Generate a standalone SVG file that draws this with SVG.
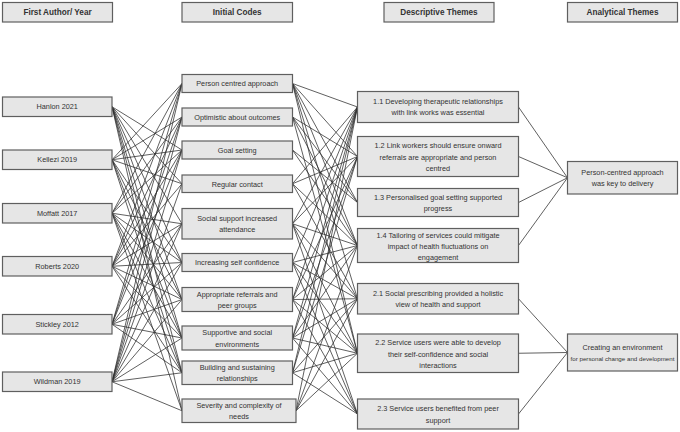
<svg xmlns="http://www.w3.org/2000/svg" width="680" height="432" viewBox="0 0 680 432">
<style>
.box{fill:#e6e6e6;stroke:#5f5f5f;stroke-width:1.2}
.hd{font-family:"Liberation Sans",Arial,sans-serif;font-size:8.2px;font-weight:bold;fill:#333;text-anchor:middle}
.t{font-family:"Liberation Sans",Arial,sans-serif;font-size:7.3px;fill:#333;text-anchor:middle}
.ts{font-family:"Liberation Sans",Arial,sans-serif;font-size:6.2px;fill:#333;text-anchor:middle}
#connectors line{stroke:#2b2b2b;stroke-width:0.75}
</style>
<rect width="680" height="432" fill="#fff"/>
<g id="connectors">
<line x1="112" y1="106.75" x2="182" y2="150"/>
<line x1="112" y1="106.75" x2="182" y2="183.75"/>
<line x1="112" y1="106.75" x2="182" y2="223.75"/>
<line x1="112" y1="106.75" x2="182" y2="262.5"/>
<line x1="112" y1="106.75" x2="182" y2="299.5"/>
<line x1="112" y1="106.75" x2="182" y2="338"/>
<line x1="112" y1="106.75" x2="182" y2="372.75"/>
<line x1="112" y1="106.75" x2="182" y2="410.75"/>
<line x1="112" y1="159.75" x2="182" y2="83.5"/>
<line x1="112" y1="159.75" x2="182" y2="117"/>
<line x1="112" y1="159.75" x2="182" y2="150"/>
<line x1="112" y1="159.75" x2="182" y2="183.75"/>
<line x1="112" y1="159.75" x2="182" y2="262.5"/>
<line x1="112" y1="159.75" x2="182" y2="299.5"/>
<line x1="112" y1="159.75" x2="182" y2="338"/>
<line x1="112" y1="159.75" x2="182" y2="372.75"/>
<line x1="112" y1="213.25" x2="182" y2="83.5"/>
<line x1="112" y1="213.25" x2="182" y2="117"/>
<line x1="112" y1="213.25" x2="182" y2="150"/>
<line x1="112" y1="213.25" x2="182" y2="223.75"/>
<line x1="112" y1="213.25" x2="182" y2="262.5"/>
<line x1="112" y1="213.25" x2="182" y2="299.5"/>
<line x1="112" y1="213.25" x2="182" y2="338"/>
<line x1="112" y1="213.25" x2="182" y2="372.75"/>
<line x1="112" y1="213.25" x2="182" y2="410.75"/>
<line x1="112" y1="266.25" x2="182" y2="83.5"/>
<line x1="112" y1="266.25" x2="182" y2="117"/>
<line x1="112" y1="266.25" x2="182" y2="150"/>
<line x1="112" y1="266.25" x2="182" y2="183.75"/>
<line x1="112" y1="266.25" x2="182" y2="223.75"/>
<line x1="112" y1="266.25" x2="182" y2="262.5"/>
<line x1="112" y1="266.25" x2="182" y2="299.5"/>
<line x1="112" y1="266.25" x2="182" y2="338"/>
<line x1="112" y1="266.25" x2="182" y2="372.75"/>
<line x1="112" y1="324.25" x2="182" y2="83.5"/>
<line x1="112" y1="324.25" x2="182" y2="117"/>
<line x1="112" y1="324.25" x2="182" y2="150"/>
<line x1="112" y1="324.25" x2="182" y2="223.75"/>
<line x1="112" y1="324.25" x2="182" y2="262.5"/>
<line x1="112" y1="324.25" x2="182" y2="299.5"/>
<line x1="112" y1="324.25" x2="182" y2="338"/>
<line x1="112" y1="324.25" x2="182" y2="372.75"/>
<line x1="112" y1="381.75" x2="182" y2="83.5"/>
<line x1="112" y1="381.75" x2="182" y2="117"/>
<line x1="112" y1="381.75" x2="182" y2="150"/>
<line x1="112" y1="381.75" x2="182" y2="183.75"/>
<line x1="112" y1="381.75" x2="182" y2="223.75"/>
<line x1="112" y1="381.75" x2="182" y2="262.5"/>
<line x1="112" y1="381.75" x2="182" y2="299.5"/>
<line x1="112" y1="381.75" x2="182" y2="338"/>
<line x1="112" y1="381.75" x2="182" y2="372.75"/>
<line x1="112" y1="381.75" x2="182" y2="410.75"/>
<line x1="292.5" y1="83.5" x2="357.5" y2="107"/>
<line x1="292.5" y1="83.5" x2="357.5" y2="156.5"/>
<line x1="292.5" y1="83.5" x2="357.5" y2="202.5"/>
<line x1="292.5" y1="83.5" x2="357.5" y2="245.5"/>
<line x1="292.5" y1="83.5" x2="357.5" y2="298.75"/>
<line x1="292.5" y1="83.5" x2="357.5" y2="353.25"/>
<line x1="292.5" y1="117" x2="357.5" y2="156.5"/>
<line x1="292.5" y1="117" x2="357.5" y2="202.5"/>
<line x1="292.5" y1="117" x2="357.5" y2="245.5"/>
<line x1="292.5" y1="117" x2="357.5" y2="353.25"/>
<line x1="292.5" y1="150" x2="357.5" y2="202.5"/>
<line x1="292.5" y1="150" x2="357.5" y2="245.5"/>
<line x1="292.5" y1="183.75" x2="357.5" y2="107"/>
<line x1="292.5" y1="183.75" x2="357.5" y2="156.5"/>
<line x1="292.5" y1="183.75" x2="357.5" y2="245.5"/>
<line x1="292.5" y1="183.75" x2="357.5" y2="298.75"/>
<line x1="292.5" y1="223.75" x2="357.5" y2="107"/>
<line x1="292.5" y1="223.75" x2="357.5" y2="156.5"/>
<line x1="292.5" y1="223.75" x2="357.5" y2="245.5"/>
<line x1="292.5" y1="223.75" x2="357.5" y2="298.75"/>
<line x1="292.5" y1="223.75" x2="357.5" y2="353.25"/>
<line x1="292.5" y1="223.75" x2="357.5" y2="414"/>
<line x1="292.5" y1="262.5" x2="357.5" y2="107"/>
<line x1="292.5" y1="262.5" x2="357.5" y2="245.5"/>
<line x1="292.5" y1="262.5" x2="357.5" y2="298.75"/>
<line x1="292.5" y1="262.5" x2="357.5" y2="353.25"/>
<line x1="292.5" y1="262.5" x2="357.5" y2="414"/>
<line x1="292.5" y1="299.5" x2="357.5" y2="107"/>
<line x1="292.5" y1="299.5" x2="357.5" y2="156.5"/>
<line x1="292.5" y1="299.5" x2="357.5" y2="245.5"/>
<line x1="292.5" y1="299.5" x2="357.5" y2="298.75"/>
<line x1="292.5" y1="299.5" x2="357.5" y2="353.25"/>
<line x1="292.5" y1="299.5" x2="357.5" y2="414"/>
<line x1="292.5" y1="338" x2="357.5" y2="107"/>
<line x1="292.5" y1="338" x2="357.5" y2="156.5"/>
<line x1="292.5" y1="338" x2="357.5" y2="245.5"/>
<line x1="292.5" y1="338" x2="357.5" y2="298.75"/>
<line x1="292.5" y1="338" x2="357.5" y2="353.25"/>
<line x1="292.5" y1="338" x2="357.5" y2="414"/>
<line x1="292.5" y1="372.75" x2="357.5" y2="107"/>
<line x1="292.5" y1="372.75" x2="357.5" y2="156.5"/>
<line x1="292.5" y1="372.75" x2="357.5" y2="298.75"/>
<line x1="292.5" y1="372.75" x2="357.5" y2="353.25"/>
<line x1="292.5" y1="372.75" x2="357.5" y2="414"/>
<line x1="296" y1="410.75" x2="357.5" y2="107"/>
<line x1="296" y1="410.75" x2="357.5" y2="245.5"/>
<line x1="296" y1="410.75" x2="357.5" y2="298.75"/>
<line x1="296" y1="410.75" x2="357.5" y2="353.25"/>
<line x1="518.5" y1="107" x2="567.5" y2="177.75"/>
<line x1="518.5" y1="156.5" x2="567.5" y2="177.75"/>
<line x1="518.5" y1="202.5" x2="567.5" y2="177.75"/>
<line x1="518.5" y1="245.5" x2="567.5" y2="177.75"/>
<line x1="518.5" y1="298.75" x2="567.5" y2="352.5"/>
<line x1="518.5" y1="353.25" x2="567.5" y2="352.5"/>
<line x1="518.5" y1="414" x2="567.5" y2="352.5"/>
</g>
<g id="h-author"><rect class="box" x="2.5" y="2.5" width="110" height="19.5"/><text class="hd" x="57.5" y="15.2">First Author/ Year</text></g>
<g id="h-codes"><rect class="box" x="182" y="2.5" width="110.5" height="19.5"/><text class="hd" x="237.2" y="15.2">Initial Codes</text></g>
<g id="h-desc"><rect class="box" x="384" y="2.5" width="110" height="19.5"/><text class="hd" x="439" y="15.2">Descriptive Themes</text></g>
<g id="h-anal"><rect class="box" x="567.5" y="2.5" width="110" height="19.5"/><text class="hd" x="622.5" y="15.2">Analytical Themes</text></g>
<g id="a-hanlon"><rect class="box" x="2.5" y="97" width="109.5" height="19.5"/><text class="t" x="57.2" y="109.4">Hanlon 2021</text></g>
<g id="a-kellezi"><rect class="box" x="2.5" y="150" width="109.5" height="19.5"/><text class="t" x="57.2" y="162.4">Kellezi 2019</text></g>
<g id="a-moffatt"><rect class="box" x="2.5" y="203.5" width="109.5" height="19.5"/><text class="t" x="57.2" y="215.9">Moffatt 2017</text></g>
<g id="a-roberts"><rect class="box" x="2.5" y="256.5" width="109.5" height="19.5"/><text class="t" x="57.2" y="268.9">Roberts 2020</text></g>
<g id="a-stickley"><rect class="box" x="2.5" y="314.5" width="109.5" height="19.5"/><text class="t" x="57.2" y="326.9">Stickley 2012</text></g>
<g id="a-wildman"><rect class="box" x="2.5" y="372" width="109.5" height="19.5"/><text class="t" x="57.2" y="384.4">Wildman 2019</text></g>
<g id="c-person"><rect class="box" x="182" y="74.5" width="110.5" height="18"/><text class="t" x="237.2" y="86.2">Person centred approach</text></g>
<g id="c-optimistic"><rect class="box" x="182" y="108" width="110.5" height="18"/><text class="t" x="237.2" y="119.7">Optimistic about outcomes</text></g>
<g id="c-goal"><rect class="box" x="182" y="141" width="110.5" height="18"/><text class="t" x="237.2" y="152.7">Goal setting</text></g>
<g id="c-regular"><rect class="box" x="182" y="175" width="110.5" height="17.5"/><text class="t" x="237.2" y="186.5">Regular contact</text></g>
<g id="c-social"><rect class="box" x="182" y="208.5" width="110.5" height="30.5"/><text class="t" x="237.2" y="220.9">Social support increased</text><text class="t" x="237.2" y="232.2">attendance</text></g>
<g id="c-increasing"><rect class="box" x="182" y="253.5" width="110.5" height="18"/><text class="t" x="237.2" y="265.2">Increasing self confidence</text></g>
<g id="c-appropriate"><rect class="box" x="182" y="287.5" width="110.5" height="24"/><text class="t" x="237.2" y="296.6">Appropriate referrals and</text><text class="t" x="237.2" y="308">peer groups</text></g>
<g id="c-supportive"><rect class="box" x="182" y="326" width="110.5" height="24"/><text class="t" x="237.2" y="335.2">Supportive and social</text><text class="t" x="237.2" y="346.6">environments</text></g>
<g id="c-building"><rect class="box" x="182" y="361" width="110.5" height="23.5"/><text class="t" x="237.2" y="370">Building and sustaining</text><text class="t" x="237.2" y="381.4">relationships</text></g>
<g id="c-severity"><rect class="box" x="182" y="399" width="114" height="23.5"/><text class="t" x="239" y="408">Severity and complexity of</text><text class="t" x="239" y="419.4">needs</text></g>
<g id="d-11"><rect class="box" x="357.5" y="91.5" width="161" height="31"/><text class="t" x="438" y="104">1.1 Developing therapeutic relationships</text><text class="t" x="438" y="115.3">with link works was essential</text></g>
<g id="d-12"><rect class="box" x="357.5" y="136.5" width="161" height="40"/><text class="t" x="438" y="148.3">1.2 Link workers should ensure onward</text><text class="t" x="438" y="159.6">referrals are appropriate and person</text><text class="t" x="438" y="170.9">centred</text></g>
<g id="d-13"><rect class="box" x="357.5" y="188.5" width="161" height="28"/><text class="t" x="438" y="199.6">1.3 Personalised goal setting supported</text><text class="t" x="438" y="210.9">progress</text></g>
<g id="d-14"><rect class="box" x="357.5" y="228.5" width="161" height="34"/><text class="t" x="438" y="237.6">1.4 Tailoring of services could mitigate</text><text class="t" x="438" y="248.9">impact of health fluctuations on</text><text class="t" x="438" y="260.2">engagement</text></g>
<g id="d-21"><rect class="box" x="357.5" y="283.5" width="161" height="30.5"/><text class="t" x="438" y="296">2.1 Social prescribing provided a holistic</text><text class="t" x="438" y="307.3">view of health and support</text></g>
<g id="d-22"><rect class="box" x="357.5" y="334" width="161" height="38.5"/><text class="t" x="438" y="345.4">2.2 Service users were able to develop</text><text class="t" x="438" y="356.7">their self-confidence and social</text><text class="t" x="438" y="368">interactions</text></g>
<g id="d-23"><rect class="box" x="357.5" y="399" width="161" height="30"/><text class="t" x="438" y="411.2">2.3 Service users benefited from peer</text><text class="t" x="438" y="422.5">support</text></g>
<g id="an-1"><rect class="box" x="567.5" y="161.5" width="110" height="32.5"/><text class="t" x="622.5" y="175">Person-centred approach</text><text class="t" x="622.5" y="186.3">was key to delivery</text></g>
<g id="an-2"><rect class="box" x="567.5" y="334" width="110" height="37"/><text class="t" x="622.5" y="349.6">Creating an environment</text><text class="ts" x="622.5" y="360.9">for personal change and development</text></g>
</svg>
